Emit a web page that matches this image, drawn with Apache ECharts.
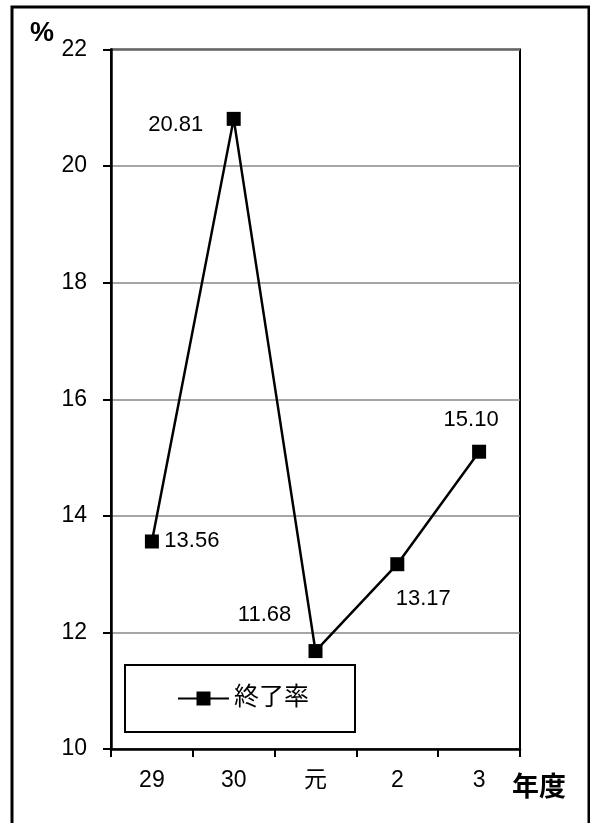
<!DOCTYPE html>
<html><head><meta charset="utf-8">
<script src="https://cdn.jsdelivr.net/npm/echarts@6/dist/echarts.min.js"></script>
<style>html,body{margin:0;padding:0;background:#fff}#c{width:590px;height:823px}</style>
</head><body><div id="c"></div>
<script>
const categories = ['29', '30', '元', '2', '3'];
const rates = [13.56, 20.81, 11.68, 13.17, 15.10];
const seriesName = '終了率';
const yMin = 10, yMax = 22, yStep = 2;
const yUnit = '%';
const xUnit = '年度';

// label placement (styling, not data)
const labelOffsets = [[40, -1], [-58, 6], [-51, -36], [26, 35], [-8, -32]];
const FONT = "'Liberation Sans', 'Noto Sans CJK JP', sans-serif";

const chart = echarts.init(document.getElementById('c'), null, {renderer: 'canvas'});
chart.setOption({
  animation: false,
  backgroundColor: '#fff',
  grid: {left: 111, right: 70, top: 49.5, bottom: 74, show: true, borderColor: '#000', borderWidth: 2, containLabel: false},
  xAxis: {
    type: 'category', data: categories, boundaryGap: true,
    axisLine: {lineStyle: {color: '#000', width: 2.5}},
    axisTick: {show: true, alignWithLabel: false, length: 8, lineStyle: {color: '#000', width: 2}},
    axisLabel: {margin: 20, color: '#000', fontSize: 23, fontFamily: FONT},
    splitLine: {show: false}
  },
  yAxis: {
    type: 'value', min: yMin, max: yMax, interval: yStep,
    axisLine: {show: true, lineStyle: {color: '#000', width: 2.5}},
    axisTick: {show: true, length: 8, lineStyle: {color: '#000', width: 2}},
    axisLabel: {margin: 24, color: '#000', fontSize: 23, fontFamily: FONT},
    splitLine: {show: true, lineStyle: {color: '#888', width: 1.5}}
  },
  legend: {
    left: 125, top: 665, orient: 'horizontal',
    padding: [21, 46, 21, 52],
    borderColor: '#000', borderWidth: 2, backgroundColor: '#fff',
    itemWidth: 51, itemHeight: 17.5, itemGap: 10,
    textStyle: {color: '#000', fontSize: 25, fontFamily: FONT},
    data: [seriesName]
  },
  series: [{
    name: seriesName, type: 'line',
    data: rates.map((v, i) => ({value: v, label: {offset: labelOffsets[i]}})),
    symbol: 'rect', symbolSize: 14,
    lineStyle: {color: '#000', width: 2.5},
    itemStyle: {color: '#000'},
    label: {
      show: true, position: 'inside', align: 'center', verticalAlign: 'middle',
      formatter: p => Number(p.value).toFixed(2),
      color: '#000', fontSize: 22, fontFamily: FONT
    },
    z: 5
  }],
  graphic: [
    {type: 'rect', shape: {x: 12, y: 7, width: 577, height: 840}, style: {fill: 'none', stroke: '#000', lineWidth: 3}, silent: true, z: 100},
    {type: 'text', x: 42, y: 33.5, style: {text: yUnit, fontSize: 27, fontWeight: 'bold', fontFamily: FONT, fill: '#000', align: 'center', verticalAlign: 'middle', textAlign: 'center', textVerticalAlign: 'middle'}},
    {type: 'text', x: 539, y: 789, style: {text: xUnit, fontSize: 27, fontWeight: 'bold', fontFamily: FONT, fill: '#000', align: 'center', verticalAlign: 'middle', textAlign: 'center', textVerticalAlign: 'middle'}}
  ]
});
</script>
</body></html>
